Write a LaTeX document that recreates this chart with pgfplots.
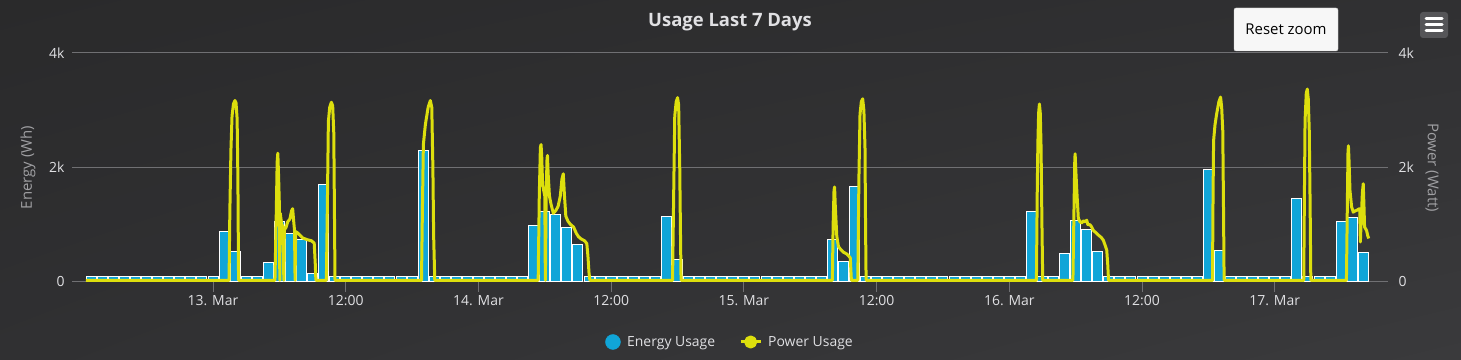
\documentclass[border=0pt]{standalone}
\usepackage{fontspec}
\setmainfont{Open Sans}
\usepackage{pgfplots}
\pgfplotsset{compat=1.18}
\usetikzlibrary{shadings}
\definecolor{bgtop}{RGB}{42,42,43}
\definecolor{bgmid}{RGB}{48,48,50}
\definecolor{bgbot}{RGB}{58,58,60}
\definecolor{gridc}{RGB}{112,112,115}
\definecolor{txt}{RGB}{224,224,227}
\definecolor{axtitle}{RGB}{160,160,163}
\definecolor{energy}{RGB}{16,165,216}
\definecolor{power}{RGB}{221,223,13}
\definecolor{menubg}{RGB}{85,85,88}
\begin{document}
\begin{tikzpicture}
\useasboundingbox (0,0) rectangle (1461bp,360bp);
\shade[upper left=bgtop, upper right=bgmid, lower left=bgmid, lower right=bgbot] (0,0) rectangle (1461bp,360bp);
\begin{axis}[
  at={(72bp,78bp)}, anchor=south west,
  scale only axis, width=1316bp, height=229bp,
  xmin=-12.75, xmax=106.24, ymin=0, ymax=4000,
  axis x line*=bottom, axis y line*=left,
  x axis line style={draw=gridc, line width=1bp},
  y axis line style={draw=none},
  xtick={0,12,...,96},
  xticklabels={13. Mar,12:00,14. Mar,12:00,15. Mar,12:00,16. Mar,12:00,17. Mar},
  xtick style={draw=gridc, line width=1bp},
  tick align=outside, major tick length=10bp,
  ytick={0,2000,4000}, yticklabels={0,2k,4k},
  ytick style={draw=none},
  scaled y ticks=false,
  ymajorgrids, grid style={draw=gridc, line width=1bp},
  ticklabel style={font=\fontsize{14}{16}\selectfont, text=txt},
  yticklabel style={xshift=6bp},
  ylabel={Energy (Wh)},
  ylabel style={at={(axis description cs:-0.0334,0.5)}, anchor=center, font=\fontsize{15}{17}\selectfont, text=axtitle},
]
\addplot[ybar, bar width=10bp, fill=energy, draw=white, line width=1bp] coordinates {
(-11,90) (-10,90) (-9,90) (-8,90) (-7,90) (-6,90) (-5,90) (-4,90) (-3,90) (-2,90) (-1,90) (0,90)
(1,875) (2,530) (3,90) (4,90) (5,335) (6,1050) (7,850) (8,740) (9,140) (10,1700)
(11,90) (12,90) (13,90) (14,90) (15,90) (16,90) (17,90) (18,90) (19,2300)
(20,90) (21,90) (22,90) (23,90) (24,90) (25,90) (26,90) (27,90) (28,90)
(29,980) (30,1225) (31,1180) (32,945) (33,660)
(34,90) (35,90) (36,90) (37,90) (38,90) (39,90) (40,90) (41,1140) (42,395)
(43,90) (44,90) (45,90) (46,90) (47,90) (48,90) (49,90) (50,90) (51,90) (52,90) (53,90) (54,90) (55,90)
(56,745) (57,355) (58,1660)
(59,90) (60,90) (61,90) (62,90) (63,90) (64,90) (65,90) (66,90) (67,90) (68,90) (69,90) (70,90) (71,90) (72,90) (73,90)
(74,1225) (75,90) (76,90) (77,490) (78,1080) (79,915) (80,525)
(81,90) (82,90) (83,90) (84,90) (85,90) (86,90) (87,90) (88,90) (89,90)
(90,1965) (91,545) (92,90) (93,90) (94,90) (95,90) (96,90) (97,90) (98,1465)
(99,90) (100,90) (101,90) (102,1050) (103,1135) (104,510)
};
\end{axis}
\begin{axis}[
  at={(72bp,78bp)}, anchor=south west,
  scale only axis, width=1316bp, height=229bp,
  xmin=-12.75, xmax=106.24, ymin=0, ymax=4000,
  axis x line=none, axis y line*=right,
  y axis line style={draw=none}, ytick style={draw=none},
  ytick={0,2000,4000}, yticklabels={0,2k,4k},
  scaled y ticks=false,
  yticklabel style={font=\fontsize{14}{16}\selectfont, text=txt, xshift=7bp},
  ylabel={Power (Watt)},
  ylabel style={at={(axis description cs:1.0334,0.5)}, anchor=center, rotate=180, font=\fontsize{15}{17}\selectfont, text=axtitle},
  legend style={at={(axis description cs:0.5,-0.262)}, anchor=center, draw=none, fill=none, text=txt,
    font=\fontsize{14}{16}\selectfont, legend columns=2,
    /tikz/every even column/.append style={column sep=22bp}},
]
\addlegendimage{legend image code/.code={\fill[energy] (7.5bp,0bp) circle (7.5bp); \path (19.5bp,0bp);}}
\addlegendentry{Energy Usage}
\addplot[power, line width=3bp, line join=round,
  legend image code/.code={\draw[power, line width=3bp] (0bp,0bp) -- (20bp,0bp); \fill[power] (10bp,0bp) circle (5bp); \path (24bp,0bp);}] coordinates {
(-11.5,30) (1.45,30) (1.52,1200) (1.62,2300) (1.72,2900) (1.85,3110) (1.98,3170) (2.08,3130) (2.18,2850) (2.25,1800) (2.31,30)
(5.6,30) (5.72,1200) (5.8,2100) (5.86,2250) (5.92,1900) (6.0,1350) (6.04,30) (6.08,1200) (6.2,1020) (6.36,950) (6.4,30) (6.45,920) (6.6,950) (6.75,1050) (6.95,1100) (7.1,1240) (7.2,1280) (7.3,1050) (7.37,900) (7.42,30) (7.47,880) (7.7,850) (8.1,770) (8.5,740) (8.9,720) (9.15,680) (9.25,300) (9.3,30)
(10.25,30) (10.35,1500) (10.43,2800) (10.55,3050) (10.7,3140) (10.82,3080) (10.92,2600) (10.98,1200) (11.03,30)
(18.85,30) (18.95,1500) (19.02,2400) (19.2,2750) (19.45,3050) (19.65,3170) (19.78,3050) (19.88,2000) (19.95,800) (20.05,30)
(29.4,30) (29.5,1500) (29.6,2350) (29.66,2400) (29.72,2200) (29.8,1700) (29.9,1600) (30.0,1500) (30.05,30) (30.12,1500) (30.2,2150) (30.24,2210) (30.3,1900) (30.42,1500) (30.55,1370) (30.77,1200) (31.0,1250) (31.2,1320) (31.4,1500) (31.55,1800) (31.67,1890) (31.78,1500) (31.9,1150) (32.1,1060) (32.3,1010) (32.6,960) (32.85,850) (33.05,790) (33.3,750) (33.6,720) (33.8,670) (33.9,450) (34.0,150) (34.08,30)
(41.55,30) (41.65,1500) (41.75,2900) (41.88,3150) (42.0,3220) (42.1,3100) (42.2,2000) (42.27,800) (42.32,30)
(56.0,30) (56.07,1000) (56.15,1600) (56.2,1660) (56.27,1300) (56.4,800) (56.55,620) (56.7,580) (57.0,520) (57.3,490) (57.5,450) (57.62,420) (57.72,30)
(58.3,30) (58.4,1800) (58.5,2930) (58.62,3150) (58.74,3200) (58.85,3000) (58.95,2350) (59.0,1000) (59.05,30)
(74.45,30) (74.52,1500) (74.58,2400) (74.65,2950) (74.72,3110) (74.8,2950) (74.87,2350) (74.95,1000) (75.02,30)
(77.75,30) (77.85,1300) (77.92,2150) (77.95,2240) (78.0,2000) (78.1,1600) (78.24,1110) (78.4,1050) (78.54,1030) (78.7,1070) (78.84,1050) (79.0,1080) (79.1,1000) (79.3,1000) (79.45,960) (79.6,900) (79.75,875) (80.05,820) (80.3,780) (80.5,730) (80.7,620) (80.81,556) (80.9,300) (80.97,30)
(90.37,30) (90.42,1500) (90.47,2470) (90.6,2750) (90.75,2940) (90.95,3150) (91.1,3230) (91.2,3050) (91.3,2640) (91.37,1200) (91.42,30)
(98.62,30) (98.68,1500) (98.74,2820) (98.85,3300) (98.94,3370) (99.03,3200) (99.12,2640) (99.2,1300) (99.26,30)
(102.48,30) (102.56,1300) (102.62,2250) (102.66,2380) (102.72,2100) (102.8,1600) (102.95,1310) (103.1,1220) (103.25,1240) (103.4,1250) (103.55,1270) (103.68,1280) (103.74,700) (103.8,1000) (103.92,1550) (104.0,1716) (104.07,1300) (104.12,960) (104.3,900) (104.42,800) (104.5,760)
};
\addlegendentry{Power Usage}
\end{axis}
\node[font=\bfseries\fontsize{18.5}{21}\selectfont, text=txt] at (730bp,338bp) {Usage Last 7 Days};
\node[draw={rgb,255:red,204;green,204;blue,204}, fill={rgb,255:red,247;green,247;blue,247}, rounded corners=2bp,
  minimum width=104bp, minimum height=43bp, inner sep=0pt, font=\fontsize{15}{17}\selectfont, text=black]
  at (1286bp,330.5bp) {Reset zoom};
\fill[menubg, rounded corners=3bp] (1420bp,322bp) rectangle (1448bp,348bp);
\foreach \yy in {341,335,329} {
  \draw[white, line width=3bp, line cap=round] (1426bp,\yy bp) -- (1442bp,\yy bp);
}
\end{tikzpicture}
\end{document}
